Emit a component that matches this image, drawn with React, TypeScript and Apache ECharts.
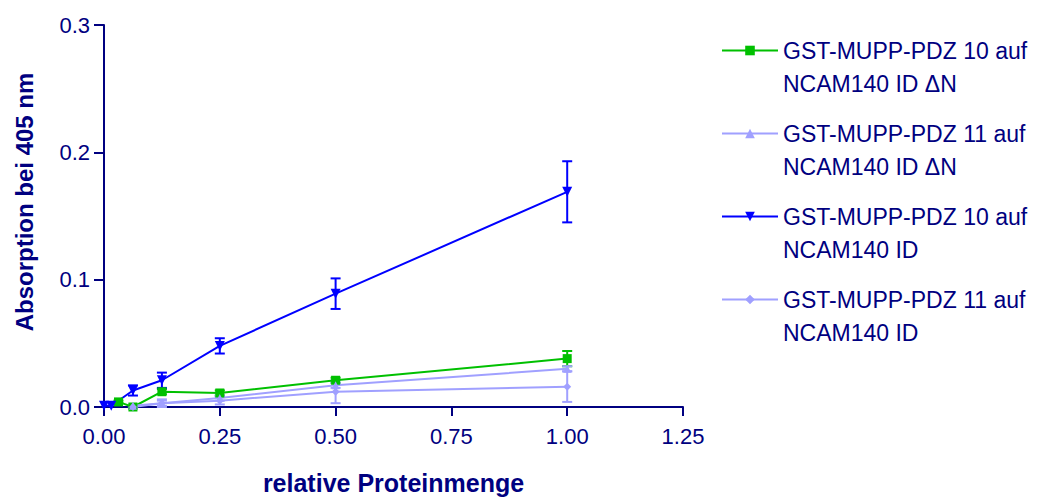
import React, { useEffect, useRef } from "react";
import * as echarts from "echarts";

const seriesNames = [
  "GST-MUPP-PDZ 10 auf\nNCAM140 ID ΔN",
  "GST-MUPP-PDZ 11 auf\nNCAM140 ID ΔN",
  "GST-MUPP-PDZ 10 auf\nNCAM140 ID",
  "GST-MUPP-PDZ 11 auf\nNCAM140 ID",
];

const xTicks = [0, 0.25, 0.5, 0.75, 1.0, 1.25];
const yTicks = [0, 0.1, 0.2, 0.3];

// [x, y, error]
const pdz10dN: number[][] = [
  [0.03125, 0.004, 0.001],
  [0.0625, 0.0, 0.001],
  [0.125, 0.012, 0.002],
  [0.25, 0.011, 0.002],
  [0.5, 0.021, 0.002],
  [1.0, 0.038, 0.006],
];
const pdz11dN: number[][] = [
  [0.0625, 0.001, 0.001],
  [0.125, 0.003, 0.003],
  [0.25, 0.007, 0.002],
  [0.5, 0.017, 0.002],
  [1.0, 0.030, 0.002],
];
const pdz10ID: number[][] = [
  [0, 0.001, 0.0],
  [0.015625, 0.001, 0.0],
  [0.0625, 0.013, 0.004],
  [0.125, 0.021, 0.006],
  [0.25, 0.048, 0.006],
  [0.5, 0.089, 0.012],
  [1.0, 0.169, 0.024],
];
const pdz11ID: number[][] = [
  [0.0625, 0.0, 0.001],
  [0.125, 0.003, 0.002],
  [0.25, 0.005, 0.003],
  [0.5, 0.012, 0.009],
  [1.0, 0.016, 0.012],
];

const colors = ["#00c000", "#a0a0ff", "#0000ff", "#a0a0ff"];
const symbols = ["rect", "triangle", "path://M0,0 L10,0 L5,10 Z", "diamond"];
const symbolSizes = [9, 8, 10, 8];
const datasets = [pdz10dN, pdz11dN, pdz10ID, pdz11ID];

const NAVY = "#000080";
const FONT = "Liberation Sans, Arial, sans-serif";

export default function App() {
  const ref = useRef<HTMLDivElement>(null);
  useEffect(() => {
    if (!ref.current) return;
    const chart = echarts.init(ref.current, undefined, { renderer: "svg" });

    const lineSeries = datasets.map((d, i) => ({
      name: seriesNames[i],
      type: "line",
      data: d.map((p) => [p[0], p[1]]),
      symbol: symbols[i],
      symbolSize: symbolSizes[i],
      showSymbol: true,
      clip: false,
      z: 3,
      itemStyle: { color: colors[i] },
      lineStyle: { color: colors[i], width: 2 },
    }));

    const errSeries = datasets.map((d, i) => ({
      name: "err" + i,
      type: "custom",
      data: d,
      clip: false,
      z: 2,
      encode: { x: 0, y: 1 },
      renderItem: (params: any, api: any) => {
        const x = api.value(0);
        const y = api.value(1);
        const e = api.value(2);
        if (!e) return null;
        const top = api.coord([x, y + e]);
        const bot = api.coord([x, y - e]);
        const hw = 5;
        const style = { stroke: colors[i], lineWidth: 2 };
        return {
          type: "group",
          children: [
            { type: "line", shape: { x1: top[0], y1: top[1], x2: bot[0], y2: bot[1] }, style },
            { type: "line", shape: { x1: top[0] - hw, y1: top[1], x2: top[0] + hw, y2: top[1] }, style },
            { type: "line", shape: { x1: bot[0] - hw, y1: bot[1], x2: bot[0] + hw, y2: bot[1] }, style },
          ],
        };
      },
    }));

    chart.setOption({
      animation: false,
      backgroundColor: "#ffffff",
      textStyle: { fontFamily: FONT },
      grid: { left: 104, top: 25, width: 579, height: 385, containLabel: false },
      legend: {
        orient: "vertical",
        left: 721,
        top: 1,
        padding: 0,
        itemGap: -16,
        itemWidth: 56,
        itemHeight: 12,
        selectedMode: false,
        data: seriesNames,
        formatter: (name: string) => "\n" + name,
        textStyle: {
          color: NAVY,
          fontSize: 23,
          fontFamily: FONT,
          lineHeight: 33,
        },
      },
      xAxis: {
        type: "value",
        min: xTicks[0],
        max: xTicks[xTicks.length - 1],
        interval: 0.25,
        name: "relative Proteinmenge",
        nameLocation: "middle",
        nameGap: 63,
        nameTextStyle: { color: NAVY, fontSize: 25, fontWeight: "bold", fontFamily: FONT },
        axisLine: { show: true, lineStyle: { color: NAVY, width: 2 } },
        axisTick: { show: true, inside: false, length: 9, lineStyle: { color: NAVY, width: 2 } },
        axisLabel: {
          color: NAVY,
          fontSize: 22,
          margin: 18,
          fontFamily: FONT,
          formatter: (v: number) => v.toFixed(2),
        },
        splitLine: { show: false },
      },
      yAxis: {
        type: "value",
        min: yTicks[0],
        max: yTicks[yTicks.length - 1],
        interval: 0.1,
        name: "Absorption bei 405 nm",
        nameLocation: "middle",
        nameRotate: 90,
        nameGap: 68,
        nameTextStyle: {
          color: NAVY,
          fontSize: 24,
          fontWeight: "bold",
          fontFamily: FONT,
          padding: [0, 0, 0, 28],
        },
        axisLine: { show: true, lineStyle: { color: NAVY, width: 2 } },
        axisTick: { show: true, inside: false, length: 10, lineStyle: { color: NAVY, width: 2 } },
        axisLabel: {
          color: NAVY,
          fontSize: 22,
          margin: 14,
          fontFamily: FONT,
          formatter: (v: number) => v.toFixed(1),
        },
        splitLine: { show: false },
      },
      series: [...errSeries, ...lineSeries],
    });
    return () => chart.dispose();
  }, []);
  return <div ref={ref} style={{ width: 1053, height: 500, position: "absolute", left: 0, top: 0 }} />;
}
